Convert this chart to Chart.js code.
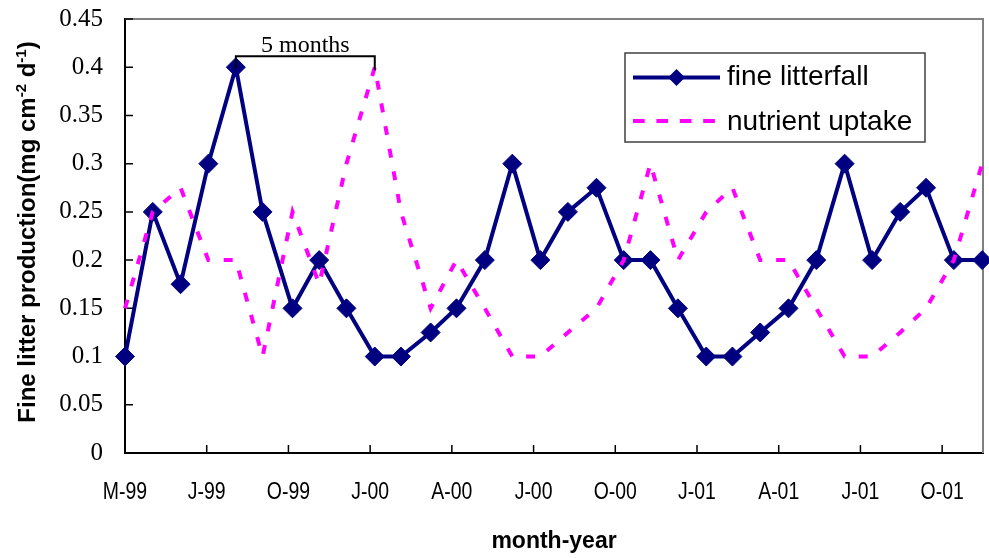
<!DOCTYPE html>
<html>
<head>
<meta charset="utf-8">
<script src="https://cdn.jsdelivr.net/npm/chart.js@4.4.1/dist/chart.umd.min.js"></script>
<style>
  html, body { margin: 0; padding: 0; background: #fff; }
  #wrap { width: 989px; height: 558px; position: relative; }
</style>
</head>
<body>
<div id="wrap"><canvas id="chart" width="989" height="558"></canvas></div>
<script>
// Sampling dates, as months elapsed since the first collection
const sampleMonths = [0, 1.02, 2.04, 3.06, 4.07, 5.05, 6.15, 7.13, 8.13, 9.17, 10.13, 11.22,
  12.17, 13.21, 14.22, 15.25, 16.26, 17.31, 18.31, 19.29, 20.30, 21.34, 22.30, 23.32,
  24.36, 25.38, 26.42, 27.43, 28.46, 29.41, 30.43, 31.47];

// Fine litter production (mg cm-2 d-1)
const fineLitterfall = [0.1, 0.25, 0.175, 0.3, 0.4, 0.25, 0.15, 0.2, 0.15, 0.1, 0.1, 0.125,
  0.15, 0.2, 0.3, 0.2, 0.25, 0.275, 0.2, 0.2, 0.15, 0.1, 0.1, 0.125,
  0.15, 0.2, 0.3, 0.2, 0.25, 0.275, 0.2, 0.2];

const nutrientUptake = [0.15, 0.25, 0.275, 0.2, 0.2, 0.1, 0.25, 0.175, 0.3, 0.4, 0.25, 0.15,
  0.2, 0.15, 0.1, 0.1, 0.125, 0.15, 0.2, 0.3, 0.2, 0.25, 0.275, 0.2,
  0.2, 0.15, 0.1, 0.1, 0.125, 0.15, 0.2, 0.3];

const seriesNames = ['fine litterfall', 'nutrient uptake'];

const xTickMonths = [0, 3, 6, 9, 12, 15, 18, 21, 24, 27, 30];
const xTickLabels = ['M-99', 'J-99', 'O-99', 'J-00', 'A-00', 'J-00', 'O-00', 'J-01', 'A-01', 'J-01', 'O-01'];

const yTickValues = [0, 0.05, 0.1, 0.15, 0.2, 0.25, 0.3, 0.35, 0.4, 0.45];
const yTickLabels = ['0', '0.05', '0.1', '0.15', '0.2', '0.25', '0.3', '0.35', '0.4', '0.45'];

const xTitle = 'month-year';
const yTitleParts = [
  { text: 'Fine litter production(mg cm', sup: false },
  { text: '-2', sup: true },
  { text: ' d', sup: false },
  { text: '-1', sup: true },
  { text: ')', sup: false }
];
const lagLabel = '5 months';

const NAVY = '#000080';
const MAGENTA = '#FF00FF';

// Keep the plot area fixed: no extra room reserved for overhanging labels
function fixBox(s, prop, size) {
  s[prop] = size;
  s.paddingTop = 0;
  s.paddingBottom = 0;
  s.paddingLeft = 0;
  s.paddingRight = 0;
}

const decorations = {
  id: 'decorations',
  beforeDatasetsDraw(chart) {
    const { ctx, chartArea: a } = chart;
    const xs = chart.scales.x, ys = chart.scales.y;
    ctx.save();
    // grey frame on the top and right of the plot area
    ctx.strokeStyle = '#808080';
    ctx.lineWidth = 2;
    ctx.beginPath();
    ctx.moveTo(a.left, a.top);
    ctx.lineTo(a.right, a.top);
    ctx.lineTo(a.right, a.bottom);
    ctx.stroke();
    // tick marks pointing into the plot
    ctx.strokeStyle = '#000';
    ctx.lineWidth = 1.5;
    ctx.beginPath();
    xs.ticks.forEach(t => {
      const px = xs.getPixelForValue(t.value);
      ctx.moveTo(px, a.bottom);
      ctx.lineTo(px, a.bottom - 8);
    });
    ys.ticks.forEach(t => {
      const py = ys.getPixelForValue(t.value);
      ctx.moveTo(a.left, py);
      ctx.lineTo(a.left + 8, py);
    });
    ctx.stroke();

    // month labels in a condensed sans face
    ctx.fillStyle = '#000';
    ctx.font = '24px "Liberation Sans", Arial, sans-serif';
    ctx.textAlign = 'center';
    ctx.textBaseline = 'alphabetic';
    xs.ticks.forEach((t, i) => {
      const px = xs.getPixelForValue(t.value);
      ctx.save();
      ctx.translate(px, a.bottom + 46);
      ctx.scale(0.81, 1);
      ctx.fillText(xTickLabels[i], 0, 0);
      ctx.restore();
    });
    ctx.restore();
  },
  afterDraw(chart) {
    const { ctx, chartArea: a } = chart;
    const xs = chart.scales.x, ys = chart.scales.y;
    ctx.save();

    // bracket between the litterfall peak and the uptake peak
    const i1 = fineLitterfall.indexOf(Math.max(...fineLitterfall));
    const i2 = nutrientUptake.indexOf(Math.max(...nutrientUptake));
    const x1 = xs.getPixelForValue(sampleMonths[i1]);
    const x2 = xs.getPixelForValue(sampleMonths[i2]);
    const yPeak = ys.getPixelForValue(fineLitterfall[i1]);
    const yBar = yPeak - 11;
    ctx.strokeStyle = '#000';
    ctx.lineWidth = 2;
    ctx.beginPath();
    ctx.moveTo(x1, yPeak + 2);
    ctx.lineTo(x1, yBar);
    ctx.lineTo(x2, yBar);
    ctx.lineTo(x2, yPeak + 3);
    ctx.stroke();
    ctx.fillStyle = '#000';
    ctx.font = '24px "Liberation Serif", "Times New Roman", serif';
    ctx.textAlign = 'center';
    ctx.textBaseline = 'alphabetic';
    ctx.fillText(lagLabel, (x1 + x2) / 2, yBar - 4);

    // legend box
    const lx = a.right - 358, ly = a.top + 34, lw = 300, lh = 89;
    ctx.fillStyle = '#fff';
    ctx.fillRect(lx, ly, lw, lh);
    ctx.strokeStyle = '#404040';
    ctx.lineWidth = 1.5;
    ctx.strokeRect(lx, ly, lw, lh);

    const sx0 = lx + 8, sx1 = lx + 95;
    const row1 = ly + 24.5, row2 = ly + 68;
    ctx.strokeStyle = NAVY;
    ctx.lineWidth = 4;
    ctx.beginPath();
    ctx.moveTo(sx0, row1);
    ctx.lineTo(sx1, row1);
    ctx.stroke();
    const dx = (sx0 + sx1) / 2, r = 8.5;
    ctx.fillStyle = NAVY;
    ctx.beginPath();
    ctx.moveTo(dx - r, row1);
    ctx.lineTo(dx, row1 - r);
    ctx.lineTo(dx + r, row1);
    ctx.lineTo(dx, row1 + r);
    ctx.closePath();
    ctx.fill();

    ctx.strokeStyle = MAGENTA;
    ctx.setLineDash([11.7, 11.7]);
    ctx.beginPath();
    ctx.moveTo(sx0, row2);
    ctx.lineTo(sx0 + 82, row2);
    ctx.stroke();
    ctx.setLineDash([]);

    ctx.fillStyle = '#000';
    ctx.font = '28px "Liberation Sans", Arial, sans-serif';
    ctx.textAlign = 'left';
    ctx.fillText(seriesNames[0], lx + 102, ly + 32);
    ctx.fillText(seriesNames[1], lx + 102, ly + 76.5);

    // x axis title
    ctx.font = 'bold 23px "Liberation Sans", Arial, sans-serif';
    ctx.textAlign = 'center';
    ctx.fillText(xTitle, (a.left + a.right) / 2, 548);

    // y axis title, with superscript exponents
    const mainFont = 'bold 24px "Liberation Sans", Arial, sans-serif';
    const supFont = 'bold 15px "Liberation Sans", Arial, sans-serif';
    let total = 0;
    yTitleParts.forEach(p => {
      ctx.font = p.sup ? supFont : mainFont;
      p.w = ctx.measureText(p.text).width;
      total += p.w;
    });
    ctx.translate(35, 232);
    ctx.rotate(-Math.PI / 2);
    ctx.textAlign = 'left';
    let cx = -total / 2;
    yTitleParts.forEach(p => {
      ctx.font = p.sup ? supFont : mainFont;
      ctx.fillText(p.text, cx, p.sup ? -9 : 0);
      cx += p.w;
    });

    ctx.restore();
  }
};

new Chart(document.getElementById('chart'), {
  type: 'line',
  data: {
    datasets: [
      {
        label: seriesNames[1],
        data: sampleMonths.map((m, i) => ({ x: m, y: nutrientUptake[i] })),
        borderColor: MAGENTA,
        borderWidth: 4,
        borderDash: [9, 14],
        pointRadius: 0,
        tension: 0,
        fill: false,
        clip: false,
        order: 0
      },
      {
        label: seriesNames[0],
        data: sampleMonths.map((m, i) => ({ x: m, y: fineLitterfall[i] })),
        borderColor: NAVY,
        backgroundColor: NAVY,
        borderWidth: 4,
        pointStyle: 'rectRot',
        pointRadius: 9.5,
        pointBorderWidth: 1,
        pointBackgroundColor: NAVY,
        pointBorderColor: NAVY,
        tension: 0,
        fill: false,
        clip: false,
        order: 1
      }
    ]
  },
  options: {
    responsive: false,
    animation: false,
    devicePixelRatio: 1,
    layout: { autoPadding: false, padding: { left: 0, right: 6, top: 19, bottom: 0 } },
    plugins: { legend: { display: false }, tooltip: { enabled: false } },
    scales: {
      x: {
        type: 'linear',
        min: 0,
        max: 31.5,
        afterBuildTicks: s => { s.ticks = xTickMonths.map(v => ({ value: v })); },
        afterFit: s => fixBox(s, 'height', 105),
        grid: { display: true, drawOnChartArea: false, drawTicks: false },
        border: { display: true, color: '#000', width: 2 },
        ticks: { display: false }
      },
      y: {
        min: 0,
        max: 0.45,
        afterBuildTicks: s => { s.ticks = yTickValues.map(v => ({ value: v })); },
        afterFit: s => fixBox(s, 'width', 125),
        grid: { display: true, drawOnChartArea: false, drawTicks: false },
        border: { display: true, color: '#000', width: 2 },
        ticks: {
          padding: 22,
          color: '#000',
          font: { family: '"Liberation Serif", "Times New Roman", serif', size: 25 },
          callback: (v, i) => yTickLabels[i]
        }
      }
    }
  },
  plugins: [decorations]
});
</script>
</body>
</html>
